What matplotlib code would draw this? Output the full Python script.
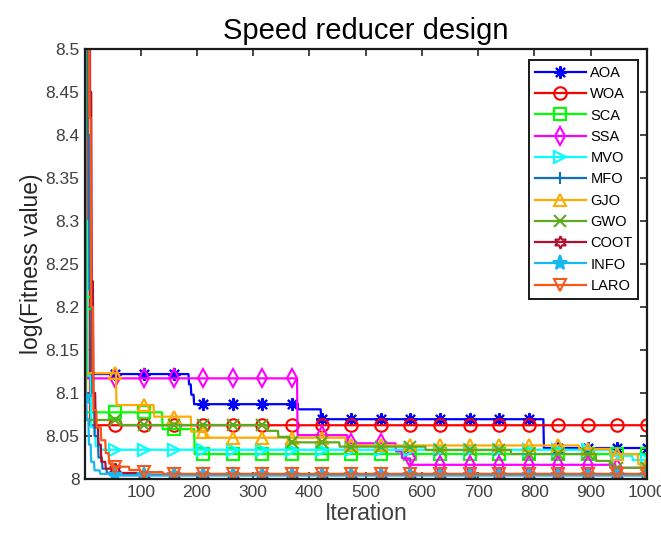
import numpy as np
import matplotlib
matplotlib.use("Agg")
import matplotlib.pyplot as plt

plt.rcParams['font.family'] = ['Liberation Sans', 'DejaVu Sans']

n_iter = 1000

# step curves: iteration where a new best value starts, and that value
aoa_it = [1, 186, 190, 195, 380, 421, 817]
aoa_val = [8.122, 8.11, 8.098, 8.087, 8.081, 8.0695, 8.036]
woa_it = [1, 6, 10]
woa_val = [8.9, 8.3, 8.0625]
sca_it = [1, 2, 139, 196]
sca_val = [8.205, 8.0775, 8.058, 8.029]
ssa_it = [1, 4, 379, 468, 554, 565, 580, 945]
ssa_val = [8.9, 8.117, 8.051, 8.0415, 8.032, 8.024, 8.0165, 8.013]
mvo_it = [1, 3, 6, 12, 20, 30, 935, 975]
mvo_val = [8.9, 8.3, 8.12, 8.06, 8.038, 8.034, 8.027, 8.022]
mfo_it = [1, 5, 9, 14, 18, 25, 32, 40, 60]
mfo_val = [8.9, 8.4, 8.22, 8.1, 8.05, 8.025, 8.012, 8.007, 8.0045]
gjo_it = [1, 2, 57, 124, 190, 216, 465, 880, 935, 985]
gjo_val = [8.9, 8.123, 8.086, 8.0725, 8.055, 8.048, 8.039, 8.035, 8.029, 8.017]
gwo_it = [1, 3, 65, 326, 345, 365, 454, 607, 759, 910, 935]
gwo_val = [8.9, 8.0686, 8.0628, 8.056, 8.049, 8.0426, 8.0376, 8.0337, 8.029, 8.021, 8.013]
coot_it = [1, 10, 13, 16, 20, 25, 30, 38, 55, 100]
coot_val = [8.9, 8.45, 8.23, 8.1, 8.06, 8.04, 8.02, 8.012, 8.007, 8.005]
info_it = [1, 4, 8, 12, 18, 28, 45]
info_val = [8.095, 8.07, 8.04, 8.02, 8.01, 8.006, 8.0042]
laro_it = [1, 9, 12, 16, 22, 30, 38, 44, 52, 80, 100, 140]
laro_val = [8.9, 8.42, 8.2, 8.08, 8.06, 8.045, 8.03, 8.018, 8.0143, 8.0105, 8.008, 8.006]

names = ['AOA', 'WOA', 'SCA', 'SSA', 'MVO', 'MFO', 'GJO', 'GWO', 'COOT', 'INFO', 'LARO']
curves = [(aoa_it, aoa_val), (woa_it, woa_val), (sca_it, sca_val), (ssa_it, ssa_val),
          (mvo_it, mvo_val), (mfo_it, mfo_val), (gjo_it, gjo_val), (gwo_it, gwo_val),
          (coot_it, coot_val), (info_it, info_val), (laro_it, laro_val)]
colors = ['#0000FF', '#FF0000', '#00FF00', '#FF00FF', '#00FFFF', '#1070C0',
          '#FFAA00', '#5DAA1E', '#B01030', '#18B8F0', '#F5581A']
markers = [(8, 2, 0), 'o', 's', 'd', '>', '+', '^', 'x', (6, 1, 0), '*', 'v']
filled = [True, False, False, False, False, True, False, True, False, True, False]


def expand(pts, vals):
    it = np.arange(1, n_iter + 1)
    idx = np.searchsorted(pts, it, side='right') - 1
    return np.asarray(vals)[idx]


iters = np.arange(1, n_iter + 1)
mark_idx = np.linspace(0, n_iter - 1, 20).round().astype(int)

fig = plt.figure(figsize=(6.61, 5.41), dpi=100)
ax = fig.add_axes([0.1286, 0.1146, 0.850, 0.795])

for name, (pts, vals), c, m, f in zip(names, curves, colors, markers, filled):
    y = expand(pts, vals)
    ax.plot(iters, y, color=c, lw=1.6, marker=m, markevery=mark_idx,
            markersize=9 if m != '*' else 11,
            markerfacecolor=c if f else 'none', markeredgecolor=c,
            markeredgewidth=1.5, label=name)

ax.set_xlim(1, 1000)
ax.set_ylim(8, 8.5)
ax.set_xticks(np.arange(100, 1001, 100))
yt = np.arange(8, 8.501, 0.05)
ax.set_yticks(yt)
ax.set_yticklabels(['%g' % round(v, 2) for v in yt])
ax.tick_params(direction='in', top=True, right=True, length=5, width=1.2, pad=4,
               labelsize=12.5, colors='#262626', labelcolor='#404040')
for s in ax.spines.values():
    s.set_linewidth(1.6)
    s.set_color('#1a1a1a')

ax.set_title('Speed reducer design', fontsize=21, pad=7)
ax.set_xlabel('Iteration', fontsize=16.5, color='#404040', labelpad=2)
ax.set_ylabel('log(Fitness value)', fontsize=16.5, color='#262626', labelpad=2)

leg = ax.legend(loc='upper right', bbox_to_anchor=(0.985, 0.974), borderaxespad=0,
                fontsize=10.5, handlelength=3.5, labelspacing=0.5, handletextpad=0.3,
                borderpad=0.4, fancybox=False, framealpha=1, edgecolor='#1a1a1a')
leg.get_frame().set_linewidth(1.4)

fig.savefig('out.png', dpi=100)
